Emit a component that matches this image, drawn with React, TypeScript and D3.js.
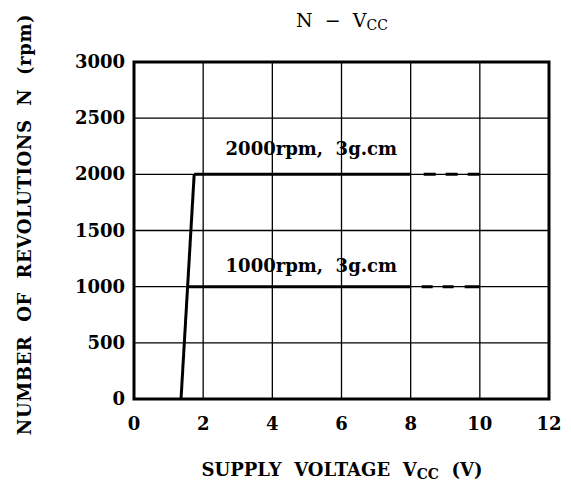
import React from "react";
import * as d3 from "d3";

const xTicks = [0, 2, 4, 6, 8, 10, 12];
const yTicks = [0, 500, 1000, 1500, 2000, 2500, 3000];
const riseV = [1.36, 1.74];
const riseN = [0, 2000];
const series2000Solid = [[1.74, 2000], [8, 2000]];
const series2000Dash = [[8, 2000], [10, 2000]];
const series1000Solid = [[1.55, 1000], [8, 1000]];
const series1000Dash = [[8, 1000], [10, 1000]];
const label2000 = "2000rpm,  3g.cm";
const label1000 = "1000rpm,  3g.cm";

const W = 571, H = 487;
const L = 134, R = 549, T = 62, B = 399;

export default function App() {
  const x = d3.scaleLinear().domain([0, 12]).range([L, R]);
  const y = d3.scaleLinear().domain([0, 3000]).range([B, T]);
  const line = d3.line<number[]>().x(d => x(d[0])).y(d => y(d[1]));
  const font = "'DejaVu Serif', serif";
  const rise = riseV.map((v, i) => [v, riseN[i]]);
  return (
    <svg width={W} height={H} style={{ position: "absolute", left: 0, top: 0 }} fontFamily={font}>
      <rect width={W} height={H} fill="#fff" />
      {xTicks.slice(1, -1).map(t => (
        <line key={"gx" + t} x1={x(t)} x2={x(t)} y1={T} y2={B} stroke="#000" strokeWidth={1.3} />
      ))}
      {yTicks.slice(1, -1).map(t => (
        <line key={"gy" + t} x1={L} x2={R} y1={y(t)} y2={y(t)} stroke="#000" strokeWidth={1.3} />
      ))}
      <rect x={L} y={T} width={R - L} height={B - T} fill="none" stroke="#000" strokeWidth={3} />
      <path d={line(rise)!} fill="none" stroke="#000" strokeWidth={3} />
      <path d={line(series2000Solid)!} fill="none" stroke="#000" strokeWidth={3} />
      <path d={line(series1000Solid)!} fill="none" stroke="#000" strokeWidth={3} />
      <path d={line(series2000Dash)!} fill="none" stroke="#000" strokeWidth={3} strokeDasharray="0 13 12 10 12 10 12 0" />
      <path d={line(series1000Dash)!} fill="none" stroke="#000" strokeWidth={3} strokeDasharray="0 11 11 10 11 11 15 0" />
      {xTicks.map(t => (
        <text key={"tx" + t} x={x(t)} y={B + 31} textAnchor="middle" fontSize={18} fontWeight="bold">{t}</text>
      ))}
      {yTicks.map(t => (
        <text key={"ty" + t} x={L - 9} y={y(t) + 6} textAnchor="end" fontSize={18} fontWeight="bold">{t}</text>
      ))}
      <text x={397} y={y(2000) - 19} textAnchor="end" fontSize={18} fontWeight="bold" xmlSpace="preserve">{label2000}</text>
      <text x={397} y={y(1000) - 15} textAnchor="end" fontSize={18} fontWeight="bold" xmlSpace="preserve">{label1000}</text>
      <text x={342} y={27} textAnchor="middle" fontSize={19} xmlSpace="preserve">
        {"N  −  V"}<tspan fontSize={14} dy={3}>CC</tspan>
      </text>
      <text x={342} y={476} textAnchor="middle" fontSize={18} fontWeight="bold" xmlSpace="preserve">
        {"SUPPLY  VOLTAGE  V"}<tspan fontSize={14} dy={3}>CC</tspan><tspan dy={-3}>{"  (V)"}</tspan>
      </text>
      <text transform={`translate(31, ${(T + B) / 2 - 6}) rotate(-90)`} textAnchor="middle" fontSize={18} fontWeight="bold" letterSpacing={0.6} xmlSpace="preserve">
        {"NUMBER  OF  REVOLUTIONS  N  (rpm)"}
      </text>
    </svg>
  );
}
